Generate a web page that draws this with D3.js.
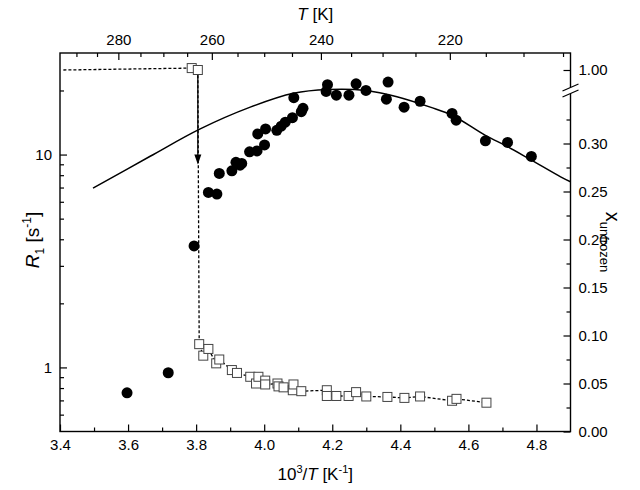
<!DOCTYPE html>
<html>
<head>
<meta charset="utf-8">
<script src="https://cdn.jsdelivr.net/npm/d3@7"></script>
<style>
  html, body { margin: 0; padding: 0; background: #fff; }
  svg { display: block; font-family: "Liberation Sans", Arial, sans-serif; }
</style>
</head>
<body>
<svg id="chart" width="640" height="490"></svg>
<script>
// ---------- data ----------
// R1 (filled circles, left log axis)
const r1X = [3.597, 3.718, 3.794, 3.836, 3.861, 3.868, 3.905, 3.917, 3.929, 3.934, 3.957, 3.979, 4.001, 3.981, 4.004, 4.037, 4.050, 4.062, 4.083, 4.087, 4.109, 4.114, 4.186, 4.182, 4.212, 4.249, 4.270, 4.299, 4.364, 4.359, 4.411, 4.458, 4.552, 4.564, 4.650, 4.715, 4.785];
const r1Vals = [0.76, 0.944, 3.72, 6.64, 6.52, 8.15, 8.39, 9.19, 8.92, 9.08, 10.3, 10.4, 11.1, 12.5, 13.2, 13.0, 13.6, 14.2, 14.9, 18.5, 15.9, 16.5, 21.3, 19.8, 19.0, 19.0, 21.5, 20.0, 21.9, 18.2, 16.7, 17.8, 15.6, 14.5, 11.6, 11.4, 9.8];
// fitted curve
const fitX = [3.497, 3.665, 3.812, 3.959, 4.086, 4.188, 4.299, 4.390, 4.488, 4.552, 4.650, 4.715, 4.785, 4.871, 4.900];
const fitVals = [6.95, 9.82, 13.2, 16.7, 19.4, 20.2, 20.0, 18.7, 16.7, 15.3, 12.3, 10.9, 9.42, 7.86, 7.45];
// x_unfrozen (open squares, right axis)
const xuX = [3.787, 3.805, 3.809, 3.821, 3.836, 3.859, 3.868, 3.905, 3.920, 3.959, 3.976, 3.983, 4.003, 4.003, 4.039, 4.042, 4.057, 4.084, 4.086, 4.109, 4.184, 4.184, 4.212, 4.248, 4.270, 4.300, 4.362, 4.412, 4.458, 4.552, 4.565, 4.653];
const xuVals = [1.002, 1.000, 0.091, 0.079, 0.086, 0.071, 0.075, 0.064, 0.061, 0.057, 0.050, 0.057, 0.053, 0.049, 0.050, 0.047, 0.046, 0.043, 0.049, 0.042, 0.043, 0.037, 0.037, 0.037, 0.041, 0.0365, 0.036, 0.035, 0.0365, 0.032, 0.034, 0.030];
const xuStart = [3.41, 1.0];      // dashed line start at 1.00
const arrowEnd = 0.278;            // arrow tip, in x_unfrozen units
// tick values
const bottomMajor = [3.4, 3.6, 3.8, 4.0, 4.2, 4.4, 4.6, 4.8];
const bottomMinor = [3.5, 3.7, 3.9, 4.1, 4.3, 4.5, 4.7];
const leftMajor = [1, 10];
const leftMinor = [0.6, 0.7, 0.8, 0.9, 2, 3, 4, 5, 6, 7, 8, 9, 20];
const topMajorT = [280, 260, 240, 220];
const topMinorT = [290, 285, 275, 270, 265, 255, 250, 245, 235, 230, 225, 215, 210, 205];
const rightMajor = [0, 0.05, 0.10, 0.15, 0.20, 0.25, 0.30];
const rightMinor = [0.025, 0.075, 0.125, 0.175, 0.225, 0.275, 0.325];
const rightHighMajor = [1.00];

// ---------- layout ----------
const L = 60, R = 570.5, T = 53, B = 431.5;
const svg = d3.select("#chart");

const x = d3.scaleLinear().domain([3.4, 4.9]).range([L, R]);
const yL = d3.scaleLog().domain([0.5, 30]).range([B, T]);
const pxPerUnit = 960;
const yRlow = d3.scaleLinear().domain([0, 0.35]).range([B, B - 0.35 * pxPerUnit]);
const yRhigh = d3.scaleLinear().domain([1.0, 1.0 + (70 - T) / pxPerUnit]).range([70, T]);
const yR = v => v > 0.5 ? yRhigh(v) : yRlow(v);

const FS = 15;

function styleAxis(g) {
  g.select(".domain").remove();
  g.selectAll(".tick line").attr("stroke", "#000").attr("stroke-width", 1.2);
  g.selectAll(".tick text").attr("fill", "#000").attr("font-size", FS)
    .attr("font-family", '"Liberation Sans", Arial, sans-serif');
}

// clip
svg.append("clipPath").attr("id", "clip").append("rect")
  .attr("x", L).attr("y", T).attr("width", R - L).attr("height", B - T);

// bottom axis
svg.append("g").attr("transform", `translate(0,${B})`)
  .call(d3.axisBottom(x).tickValues(bottomMajor).tickSize(-7).tickPadding(8).tickFormat(d3.format(".1f")))
  .call(styleAxis);
svg.append("g").attr("transform", `translate(0,${B})`)
  .call(d3.axisBottom(x).tickValues(bottomMinor).tickSize(-4).tickFormat(""))
  .call(styleAxis);

// top axis (T in K)
svg.append("g").attr("transform", `translate(0,${T})`)
  .call(d3.axisTop(x).tickValues(topMajorT.map(t => 1000 / t)).tickSize(-7).tickPadding(8)
    .tickFormat(d => Math.round(1000 / d)))
  .call(styleAxis);
svg.append("g").attr("transform", `translate(0,${T})`)
  .call(d3.axisTop(x).tickValues(topMinorT.map(t => 1000 / t)).tickSize(-4).tickFormat(""))
  .call(styleAxis);

// left axis
svg.append("g").attr("transform", `translate(${L},0)`)
  .call(d3.axisLeft(yL).tickValues(leftMajor).tickSize(-7).tickPadding(8).tickFormat(d3.format("d")))
  .call(styleAxis);
svg.append("g").attr("transform", `translate(${L},0)`)
  .call(d3.axisLeft(yL).tickValues(leftMinor).tickSize(-4).tickFormat(""))
  .call(styleAxis);

// right axis (broken)
svg.append("g").attr("transform", `translate(${R},0)`)
  .call(d3.axisRight(yRlow).tickValues(rightMajor).tickSize(-7).tickPadding(8).tickFormat(d3.format(".2f")))
  .call(styleAxis);
svg.append("g").attr("transform", `translate(${R},0)`)
  .call(d3.axisRight(yRlow).tickValues(rightMinor).tickSize(-4).tickFormat(""))
  .call(styleAxis);
svg.append("g").attr("transform", `translate(${R},0)`)
  .call(d3.axisRight(yRhigh).tickValues(rightHighMajor).tickSize(-7).tickPadding(8).tickFormat(d3.format(".2f")))
  .call(styleAxis);

// frame
svg.append("rect").attr("x", L).attr("y", T).attr("width", R - L).attr("height", B - T)
  .attr("fill", "none").attr("stroke", "#000").attr("stroke-width", 1.4);

// axis break on right axis
const brY = 90;
svg.append("path")
  .attr("d", `M${R - 8},${brY + 1} L${R + 8},${brY - 6} L${R + 8},${brY} L${R - 8},${brY + 7} Z`)
  .attr("fill", "#fff").attr("stroke", "none");
svg.append("path")
  .attr("d", `M${R - 8},${brY + 1} L${R + 8},${brY - 6} M${R - 8},${brY + 7} L${R + 8},${brY}`)
  .attr("fill", "none").attr("stroke", "#000").attr("stroke-width", 1.2);

const plot = svg.append("g").attr("clip-path", "url(#clip)");

// fitted curve
const fitData = fitX.map((v, i) => [v, fitVals[i]]);
plot.append("path").datum(fitData)
  .attr("d", d3.line().x(d => x(d[0])).y(d => yL(d[1])).curve(d3.curveCatmullRom.alpha(0.5)))
  .attr("fill", "none").attr("stroke", "#000").attr("stroke-width", 1.5);

// dashed line through squares
const xuData = xuX.map((v, i) => [v, xuVals[i]]);
const dashData = [xuStart].concat(xuData);
plot.append("path").datum(dashData)
  .attr("d", d3.line().x(d => x(d[0])).y(d => yR(d[1])))
  .attr("fill", "none").attr("stroke", "#000").attr("stroke-width", 1.3)
  .attr("stroke-dasharray", "3,2");

// arrow (solid, over the drop)
const ax = x(xuX[1]);
const ay0 = yR(xuVals[1]) + 4;
const ay1 = yR(arrowEnd);
plot.append("line").attr("x1", ax).attr("x2", ax).attr("y1", ay0).attr("y2", ay1 - 8)
  .attr("stroke", "#000").attr("stroke-width", 1.3);
plot.append("path")
  .attr("d", `M${ax - 3.5},${ay1 - 10} L${ax + 3.5},${ay1 - 10} L${ax},${ay1} Z`)
  .attr("fill", "#000");

// squares
plot.selectAll("rect.sq").data(xuData).enter().append("rect")
  .attr("class", "sq")
  .attr("x", d => x(d[0]) - 4.5).attr("y", d => yR(d[1]) - 4.5)
  .attr("width", 9).attr("height", 9)
  .attr("fill", "#fff").attr("stroke", "#444").attr("stroke-width", 1);

// circles
const r1Data = r1X.map((v, i) => [v, r1Vals[i]]);
plot.selectAll("circle.r1").data(r1Data).enter().append("circle")
  .attr("class", "r1")
  .attr("cx", d => x(d[0])).attr("cy", d => yL(d[1])).attr("r", 5.5)
  .attr("fill", "#000");

// ---------- titles ----------
// bottom
const bt = svg.append("text").attr("x", (L + R) / 2).attr("y", 480)
  .attr("text-anchor", "middle").attr("font-size", 17).attr("fill", "#000");
bt.append("tspan").text("10");
bt.append("tspan").attr("font-size", 11).attr("dy", -7).text("3");
bt.append("tspan").attr("dy", 7).text("/");
bt.append("tspan").attr("font-style", "italic").text("T");
bt.append("tspan").text(" [K");
bt.append("tspan").attr("font-size", 11).attr("dy", -7).text("-1");
bt.append("tspan").attr("dy", 7).text("]");

// top
const tt = svg.append("text").attr("x", (L + R) / 2).attr("y", 20)
  .attr("text-anchor", "middle").attr("font-size", 17).attr("fill", "#000");
tt.append("tspan").attr("font-style", "italic").text("T");
tt.append("tspan").text(" [K]");

// left
const lt = svg.append("text").attr("transform", `translate(39,240) rotate(-90)`)
  .attr("text-anchor", "middle").attr("font-size", 19).attr("fill", "#000");
lt.append("tspan").attr("font-style", "italic").text("R");
lt.append("tspan").attr("font-size", 12).attr("dy", 5).text("1");
lt.append("tspan").attr("dy", -5).text(" [s");
lt.append("tspan").attr("font-size", 12).attr("dy", -8).text("-1");
lt.append("tspan").attr("dy", 8).text("]");

// right
const rt = svg.append("text").attr("transform", `translate(606,242) rotate(90)`)
  .attr("text-anchor", "middle").attr("font-size", 20).attr("fill", "#000");
rt.append("tspan").text("x");
rt.append("tspan").attr("font-size", 13).attr("dy", 6).text("unfrozen");
</script>
</body>
</html>
